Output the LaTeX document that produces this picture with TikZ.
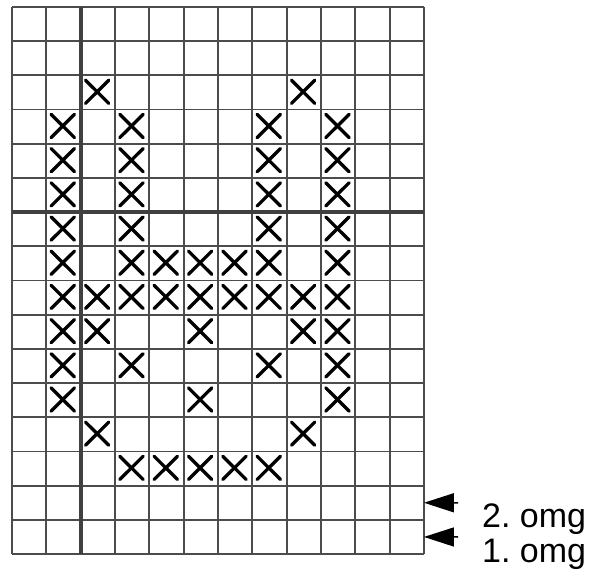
\documentclass[tikz,border=0pt]{standalone}
\usepackage{fontspec}
\setmainfont{Liberation Sans}
\usetikzlibrary{arrows.meta}
\tikzset{
  gridline/.style={draw=black!70, line width=1.8pt},
  thickline/.style={draw=black!75, line width=4pt},
  xmark/.style={draw=black, line width=3.3pt, line cap=round},
  pointer/.style={draw=black, line width=1.5pt, -{Triangle[length=30pt,width=19pt]}},
  lbl/.style={anchor=base west, inner sep=0pt, font=\fontsize{34}{34}\selectfont\frenchspacing}
}
\begin{document}
\begin{tikzpicture}[x=1pt,y=-1pt]
\useasboundingbox (0,0) rectangle (598,572);
\begin{scope}[shift={(12,7)}, x=34.33pt, y=-34.19pt]
  \foreach \i in {0,...,12} \draw[gridline] (\i,0) -- (\i,16);
  \foreach \j in {0,...,16} \draw[gridline] (0,\j) -- (12,\j);
  \draw[thickline] (2,0) -- (2,16);
  \draw[thickline] (0,6) -- (12,6);
  \foreach \c/\r in {2/2,8/2,
      1/3,3/3,7/3,9/3,
      1/4,3/4,7/4,9/4,
      1/5,3/5,7/5,9/5,
      1/6,3/6,7/6,9/6,
      1/7,3/7,4/7,5/7,6/7,7/7,9/7,
      1/8,2/8,3/8,4/8,5/8,6/8,7/8,8/8,9/8,
      1/9,2/9,5/9,8/9,9/9,
      1/10,3/10,7/10,9/10,
      1/11,5/11,9/11,
      2/12,8/12,
      3/13,4/13,5/13,6/13,7/13}{
    \draw[xmark] (\c+0.14,\r+0.14) -- (\c+0.82,\r+0.82);
    \draw[xmark] (\c+0.82,\r+0.14) -- (\c+0.14,\r+0.82);
  }
  \coordinate (tip2) at (12,14.5);
  \coordinate (tip1) at (12,15.5);
\end{scope}
\coordinate (start2) at (458,502.8);
\coordinate (start1) at (458,537);
\draw[pointer] (start2) -- (tip2);
\draw[pointer] (start1) -- (tip1);
\node[lbl] (l2) at (482,527) {2. omg};
\node[lbl] (l1) at (482,562) {1. omg};
\end{tikzpicture}
\end{document}
